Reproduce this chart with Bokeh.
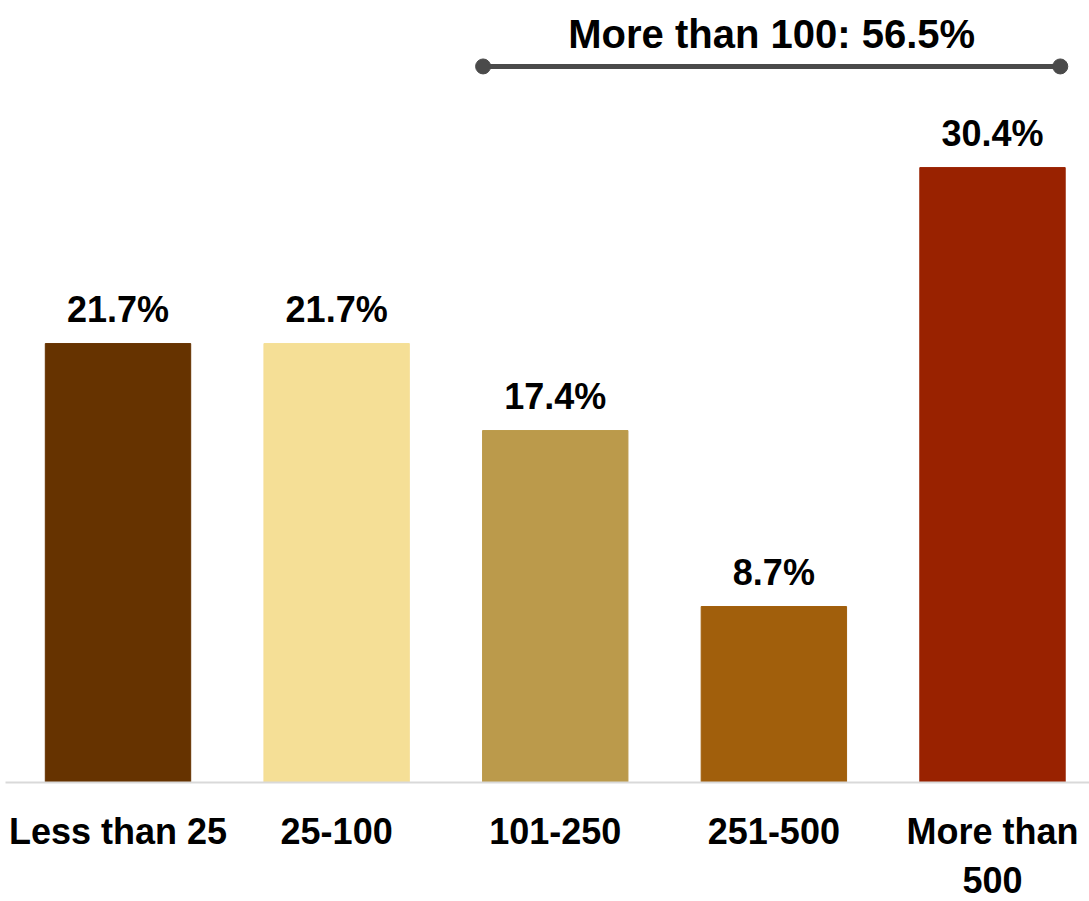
from bokeh.plotting import figure
from bokeh.models import FixedTicker, Range1d, ColumnDataSource
from bokeh.core.properties import value
from bokeh.embed import file_html
from bokeh.resources import INLINE

categories = ["Less than 25", "25-100", "101-250", "251-500", "More than\n500"]
shares = [21.7, 21.7, 17.4, 8.7, 30.4]
labels = ["21.7%", "21.7%", "17.4%", "8.7%", "30.4%"]
colors = ["#663300", "#F5DF96", "#BB9A4B", "#A15F0C", "#992200"]
group_label = "More than 100: 56.5%"
group_first, group_last = 2, 4
group_y = 35.4
group_text_y = 37.0

FONT = "Liberation Sans"
xs = list(range(len(categories)))
src = ColumnDataSource(dict(x=xs, top=shares, color=colors, label=labels))

p = figure(frame_width=1084, frame_height=782, output_backend="svg", toolbar_location=None,
           x_range=Range1d(-0.5146, 4.4437), y_range=Range1d(0, 38.66),
           min_border_left=5, min_border_right=0, min_border_top=0, min_border_bottom=119)
p.outline_line_color = None
p.grid.visible = False
p.yaxis.visible = False
p.background_fill_color = "white"

p.vbar(x="x", top="top", width=0.665, bottom=0, color="color", source=src)
p.text(x="x", y="top", text="label", source=src, text_align="center",
       text_baseline="alphabetic", y_offset=-34, text_font=value(FONT),
       text_font_style="bold", text_font_size="36px", text_color="black")

x0 = group_first - 0.33
x1 = group_last + 0.31
p.segment(x0=[x0], y0=[group_y], x1=[x1], y1=[group_y], line_color="#4a4a4a", line_width=5)
p.scatter(x=[x0, x1], y=[group_y, group_y], size=15, color="#4a4a4a")
p.text(x=[(x0 + x1) / 2], y=[group_text_y], text=[group_label], text_align="center",
       text_baseline="middle", text_font=value(FONT), text_font_style="bold",
       text_font_size="40px", text_color="black")

ax = p.xaxis[0]
ax.ticker = FixedTicker(ticks=xs)
ax.major_label_overrides = {i: c for i, c in enumerate(categories)}
ax.major_tick_line_color = None
ax.minor_tick_line_color = None
ax.axis_line_color = "#d9d9d9"
ax.axis_line_width = 2
ax.major_label_text_font = FONT
ax.major_label_text_font_style = "bold"
ax.major_label_text_font_size = "36px"
ax.major_label_text_color = "black"
ax.major_label_standoff = 22

open("out.html", "w").write(file_html(p, INLINE))
